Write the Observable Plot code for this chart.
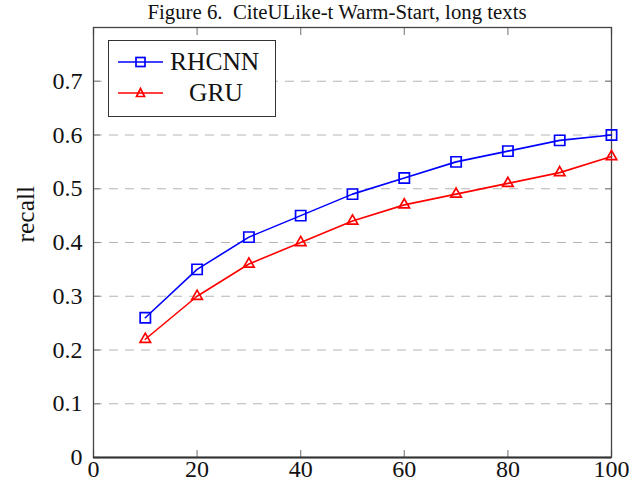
<!DOCTYPE html>
<html>
<head>
<meta charset="utf-8">
<script src="https://cdn.jsdelivr.net/npm/d3@7"></script>
<script src="https://cdn.jsdelivr.net/npm/@observablehq/plot@0.6"></script>
<style>
  body { margin: 0; background: #fff; font-family: "Liberation Serif", "DejaVu Serif", serif; }
  #wrap { position: relative; width: 641px; height: 488px; overflow: hidden; }
  #title { position: absolute; left: 117px; top: 0px; width: 440px; text-align: center; font-size: 20.8px; line-height: 24px; color: #111; white-space: nowrap; }
  #chart { position: absolute; left: 0; top: 0; }
  #legend { position: absolute; left: 108px; top: 40px; width: 168px; height: 77px; border: 1.3px solid #333; background: #fff; box-sizing: border-box; font-size: 25.5px; color: #111; }
  .row { position: absolute; left: 0; height: 34px; display: flex; align-items: center; }
  .row svg { margin-left: 9px; }
  .row span { margin-left: 7px; }
</style>
</head>
<body>
<div id="wrap">
  <div id="chart"></div>
  <div id="title">Figure 6.&nbsp;&nbsp;CiteULike-t Warm-Start, long texts</div>
  <div id="legend"></div>
</div>
<script>
const xValues = [10, 20, 30, 40, 50, 60, 70, 80, 90, 100];
const rhcnn = [0.26, 0.35, 0.41, 0.45, 0.49, 0.52, 0.55, 0.57, 0.59, 0.60];
const gru = [0.22, 0.30, 0.36, 0.40, 0.44, 0.47, 0.49, 0.51, 0.53, 0.56];
const seriesNames = ["RHCNN", "GRU"];
const seriesColors = ["#0000ff", "#ff0000"];
const seriesSymbols = ["square", "triangle"];
const xTicks = [0, 20, 40, 60, 80, 100];
const yTicks = [0, 0.1, 0.2, 0.3, 0.4, 0.5, 0.6, 0.7];
const yLabel = "recall";

const data = [];
seriesNames.forEach((s, i) => {
  const vals = i === 0 ? rhcnn : gru;
  xValues.forEach((x, j) => data.push({series: s, x, y: vals[j]}));
});

const fmt = d => d === 0 ? "0" : d3.format(".1f")(d);
const tickStyle = {tickSize: -7, stroke: "#888", strokeWidth: 1.2, text: null, label: null};

const chart = Plot.plot({
  width: 641,
  height: 488,
  marginLeft: 93,
  marginRight: 30,
  marginTop: 27,
  marginBottom: 31,
  style: {fontFamily: "'Liberation Serif', 'DejaVu Serif', serif", background: "#fff", overflow: "visible"},
  x: {domain: [0, 100]},
  y: {domain: [0, 0.8]},
  color: {domain: seriesNames, range: seriesColors},
  symbol: {domain: seriesNames, range: seriesSymbols},
  marks: [
    Plot.gridY(yTicks.filter(d => d > 0), {stroke: "#b5b5b5", strokeOpacity: 1, strokeDasharray: "9,7", strokeWidth: 1.2}),
    Plot.axisX(xTicks, {anchor: "bottom", ...tickStyle}),
    Plot.axisX(xTicks, {anchor: "top", ...tickStyle}),
    Plot.axisY(yTicks, {anchor: "left", ...tickStyle}),
    Plot.axisY(yTicks, {anchor: "right", ...tickStyle}),
    Plot.axisX(xTicks, {anchor: "bottom", tickSize: 0, tickPadding: 2, fontSize: 24, fill: "#111", label: null, lineAnchor: "top"}),
    Plot.axisY(yTicks, {anchor: "left", tickSize: 0, tickPadding: 11, fontSize: 24, fill: "#111", tickFormat: fmt, label: null}),
    Plot.frame({stroke: "#444", strokeWidth: 1.3}),
    Plot.ruleY([0], {stroke: "#333", strokeWidth: 2}),
    Plot.line(data, {x: "x", y: "y", z: "series", stroke: "series", strokeWidth: 1.6}),
    Plot.dot(data.filter(d => d.series === "RHCNN"), {x: "x", y: "y", stroke: "series", symbol: "series", r: 5.8, strokeWidth: 1.7, fill: "none"}),
    Plot.dot(data.filter(d => d.series === "GRU"), {x: "x", y: "y", stroke: "series", symbol: "series", r: 3.9, strokeWidth: 1.7, fill: "none"}),
    Plot.text([yLabel], {text: d => d, frameAnchor: "left", dx: -68, rotate: -90, fontSize: 25.5, fill: "#111"})
  ]
});
document.getElementById("chart").appendChild(chart);

// legend
const legend = document.getElementById("legend");
seriesNames.forEach((s, i) => {
  const row = document.createElement("div");
  row.className = "row";
  row.style.top = (i * 31 + 3.7) + "px";
  const sym = i === 0
    ? `<rect x="18" y="7.5" width="9" height="9" fill="none" stroke="${seriesColors[i]}" stroke-width="1.7"/>`
    : `<path d="M22.5,7.5 L26.5,15.5 L18.5,15.5 Z" fill="none" stroke="${seriesColors[i]}" stroke-width="1.7"/>`;
  row.innerHTML = `<svg width="45" height="24"><line x1="0" y1="12" x2="45" y2="12" stroke="${seriesColors[i]}" stroke-width="1.7"/>${sym}</svg><span style="${i === 1 ? 'margin-left:26px' : ''}">${s}</span>`;
  legend.appendChild(row);
});
</script>
</body>
</html>
